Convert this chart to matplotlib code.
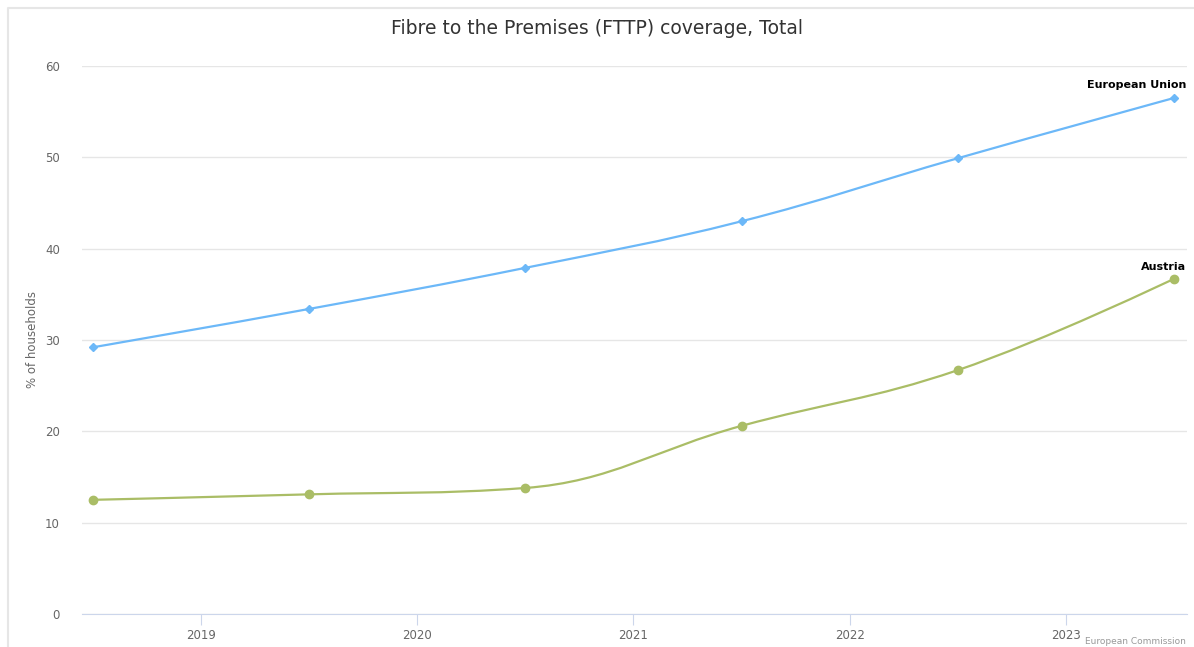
import numpy as np
import matplotlib.pyplot as plt
from matplotlib.path import Path
from matplotlib.patches import PathPatch
from matplotlib.lines import Line2D

years = [2018.5, 2019.5, 2020.5, 2021.5, 2022.5, 2023.5]
eu = [29.2, 33.4, 37.9, 43.0, 49.9, 56.5]
austria = [12.5, 13.1, 13.8, 20.6, 26.7, 36.7]
year_ticks = [2019, 2020, 2021, 2022, 2023]
y_ticks = [0, 10, 20, 30, 40, 50, 60]

eu_color = '#6cb8f8'
at_color = '#aabd66'


def spline_path(xs, ys, smoothing=1.5):
	# highcharts style spline control points
	n = len(xs)
	left = [(xs[i], ys[i]) for i in range(n)]
	right = [(xs[i], ys[i]) for i in range(n)]
	d = smoothing + 1
	for i in range(1, n - 1):
		x, y = xs[i], ys[i]
		lx = (smoothing * x + xs[i - 1]) / d
		ly = (smoothing * y + ys[i - 1]) / d
		rx = (smoothing * x + xs[i + 1]) / d
		ry = (smoothing * y + ys[i + 1]) / d
		if rx != lx:
			corr = ((ry - ly) * (rx - x)) / (rx - lx) + y - ry
			ly += corr
			ry += corr
		if ly > ys[i - 1] and ly > y:
			ly = max(ys[i - 1], y)
			ry = 2 * y - ly
		elif ly < ys[i - 1] and ly < y:
			ly = min(ys[i - 1], y)
			ry = 2 * y - ly
		if ry > ys[i + 1] and ry > y:
			ry = max(ys[i + 1], y)
			ly = 2 * y - ry
		elif ry < ys[i + 1] and ry < y:
			ry = min(ys[i + 1], y)
			ly = 2 * y - ry
		left[i] = (lx, ly)
		right[i] = (rx, ry)
	verts = [(xs[0], ys[0])]
	codes = [Path.MOVETO]
	for i in range(1, n):
		verts += [right[i - 1], left[i], (xs[i], ys[i])]
		codes += [Path.CURVE4] * 3
	return Path(verts, codes)


fig = plt.figure(figsize=(11.94, 6.47), dpi=100)
# light frame: only top and left edges are visible in the image
fx, fy = 8 / 1194, 1 - 8 / 647
fig.add_artist(Line2D([fx, fx, 1], [0, fy, fy], transform=fig.transFigure,
	color='#e6e6e6', linewidth=1.5))

ax = fig.add_axes([82 / 1194, 1 - 614 / 647, (1187 - 82) / 1194, (614 - 66) / 647])
ax.set_xlim(2018.45, 2023.56)
ax.set_ylim(0, 60)

for xs, ys, c, m, ms in [(years, eu, eu_color, 'D', 4.5), (years, austria, at_color, 'o', 6)]:
	ax.add_patch(PathPatch(spline_path(xs, ys), facecolor='none', edgecolor=c, linewidth=1.6, zorder=3))
	ax.plot(xs, ys, linestyle='none', marker=m, markersize=ms, color=c, zorder=4, clip_on=False)

ax.set_yticks(y_ticks)
ax.set_xticks(year_ticks)
ax.set_xticklabels([str(y) for y in year_ticks])
ax.grid(axis='y', color='#e6e6e6', linewidth=1)
ax.set_axisbelow(True)
for s in ['top', 'right', 'left']:
	ax.spines[s].set_visible(False)
ax.spines['bottom'].set_color('#ccd6eb')
ax.tick_params(axis='y', length=0, pad=16, labelsize=8.5, labelcolor='#666666')
ax.tick_params(axis='x', length=8, color='#ccd6eb', pad=3, labelsize=8.5, labelcolor='#666666')
ax.set_ylabel('% of households', fontsize=8.5, color='#666666', labelpad=4)

ax.annotate('European Union', (years[-1], eu[-1]), xytext=(9, 6), textcoords='offset points',
	ha='right', va='bottom', fontsize=8, fontweight='bold', color='black', annotation_clip=False)
ax.annotate('Austria', (years[-1], austria[-1]), xytext=(9, 5), textcoords='offset points',
	ha='right', va='bottom', fontsize=8, fontweight='bold', color='black', annotation_clip=False)

fig.text(0.5, 1 - 28 / 647, 'Fibre to the Premises (FTTP) coverage, Total', ha='center', va='center',
	fontsize=13.5, color='#333333')
fig.text(1186 / 1194, 1 / 647, 'European Commission', ha='right', va='bottom',
	fontsize=6.5, color='#999999')

fig.savefig('out.png', dpi=100)
